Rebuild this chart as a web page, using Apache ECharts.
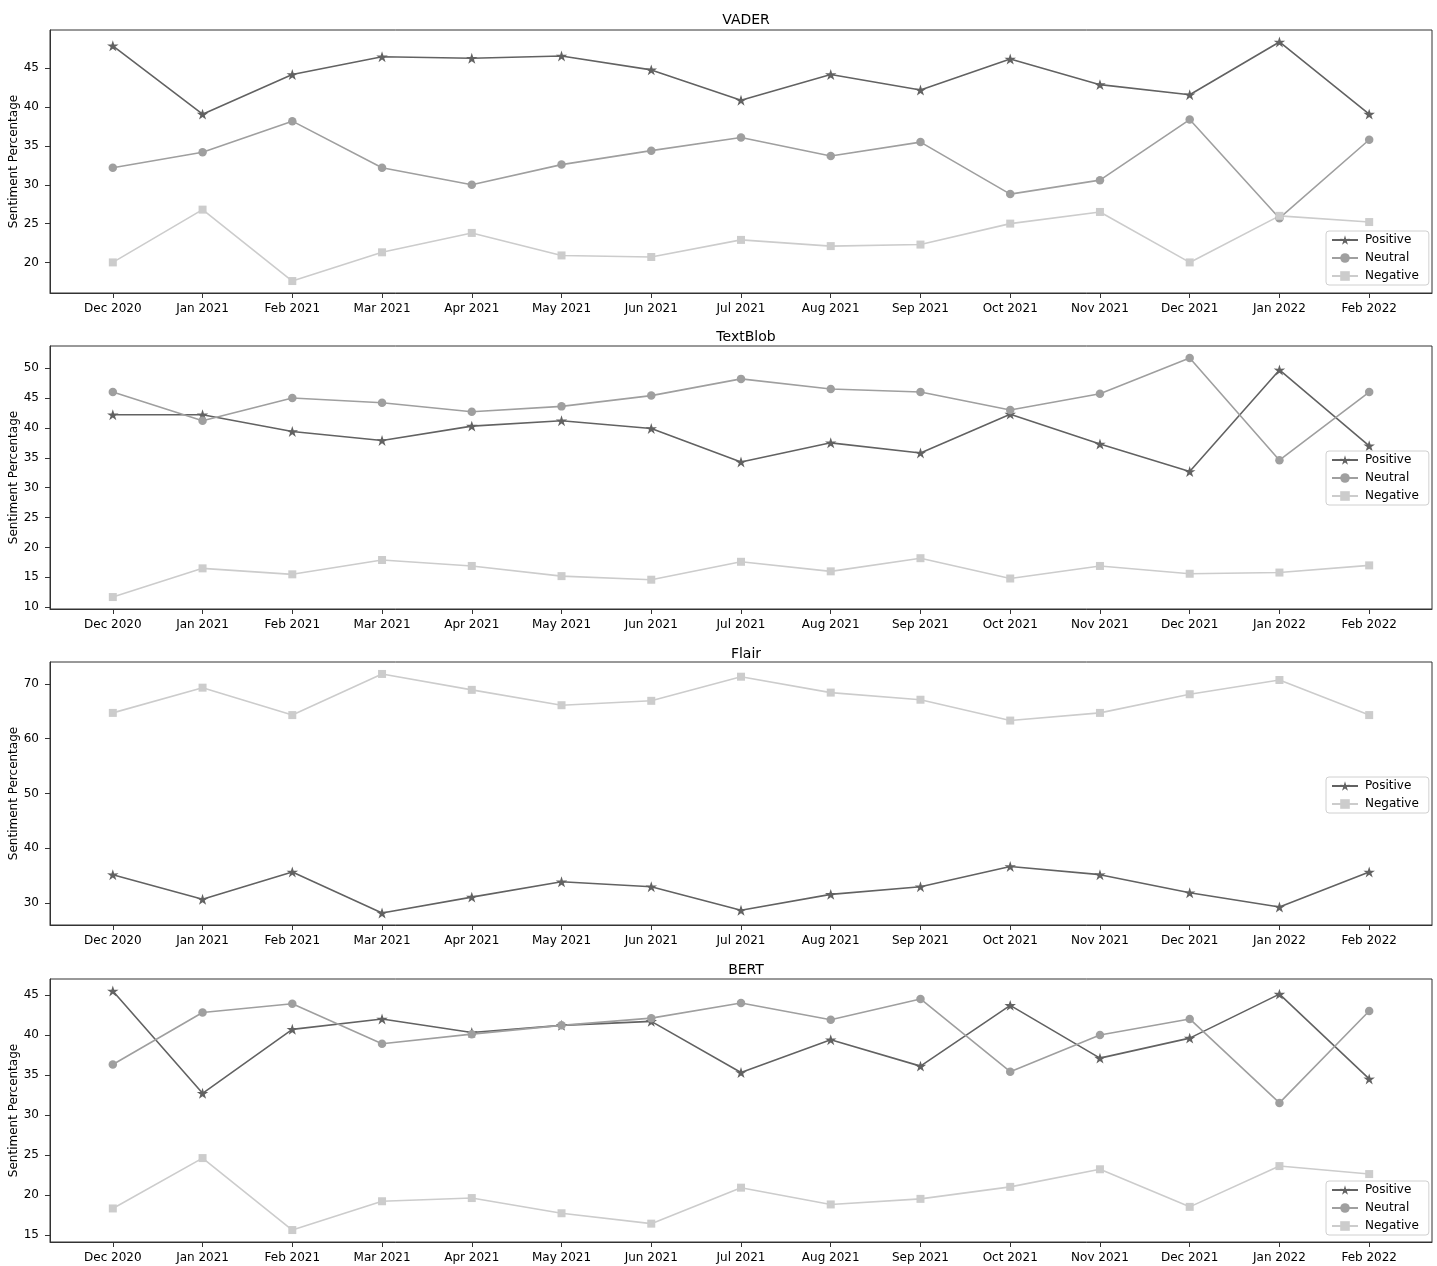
<!DOCTYPE html>
<html>
<head>
<meta charset="utf-8">
<script src="https://cdn.jsdelivr.net/npm/echarts@6/dist/echarts.min.js"></script>
<style>
html,body{margin:0;padding:0;background:#fff;}
#chart{width:1437px;height:1266px;}
</style>
</head>
<body>
<div id="chart"></div>
<script>
const months = ['Dec 2020','Jan 2021','Feb 2021','Mar 2021','Apr 2021','May 2021','Jun 2021','Jul 2021','Aug 2021','Sep 2021','Oct 2021','Nov 2021','Dec 2021','Jan 2022','Feb 2022'];

const vaderPositive = [47.9, 39.1, 44.2, 46.5, 46.3, 46.6, 44.8, 40.9, 44.2, 42.2, 46.2, 42.9, 41.6, 48.4, 39.1];
const vaderNeutral  = [32.2, 34.2, 38.2, 32.2, 30.0, 32.6, 34.4, 36.1, 33.7, 35.5, 28.8, 30.6, 38.4, 25.7, 35.8];
const vaderNegative = [20.0, 26.8, 17.6, 21.3, 23.8, 20.9, 20.7, 22.9, 22.1, 22.3, 25.0, 26.5, 20.0, 26.0, 25.2];

const textblobPositive = [42.2, 42.2, 39.4, 37.9, 40.3, 41.2, 39.9, 34.3, 37.5, 35.8, 42.3, 37.3, 32.7, 49.7, 37.0];
const textblobNeutral  = [46.0, 41.2, 45.0, 44.2, 42.7, 43.6, 45.4, 48.2, 46.5, 46.0, 43.0, 45.7, 51.7, 34.6, 46.0];
const textblobNegative = [11.7, 16.5, 15.5, 17.9, 16.9, 15.2, 14.6, 17.6, 16.0, 18.2, 14.8, 16.9, 15.6, 15.8, 17.0];

const flairPositive = [35.2, 30.7, 35.7, 28.2, 31.1, 33.9, 33.0, 28.7, 31.6, 33.0, 36.7, 35.2, 31.9, 29.3, 35.7];
const flairNegative = [64.7, 69.3, 64.3, 71.8, 68.9, 66.1, 66.9, 71.3, 68.4, 67.1, 63.3, 64.7, 68.1, 70.7, 64.3];

const bertPositive = [45.5, 32.7, 40.7, 42.0, 40.3, 41.2, 41.7, 35.3, 39.4, 36.1, 43.7, 37.1, 39.6, 45.1, 34.5];
const bertNeutral  = [36.3, 42.8, 43.9, 38.9, 40.1, 41.2, 42.1, 44.0, 41.9, 44.5, 35.4, 40.0, 42.0, 31.5, 43.0];
const bertNegative = [18.3, 24.6, 15.6, 19.2, 19.6, 17.7, 16.4, 20.9, 18.8, 19.5, 21.0, 23.2, 18.5, 23.6, 22.6];

const vaderTicks = [20, 25, 30, 35, 40, 45];
const textblobTicks = [10, 15, 20, 25, 30, 35, 40, 45, 50];
const flairTicks = [30, 40, 50, 60, 70];
const bertTicks = [15, 20, 25, 30, 35, 40, 45];

const panelTitles = ['VADER', 'TextBlob', 'Flair', 'BERT'];
const yAxisTitle = 'Sentiment Percentage';

// ---- layout / style ----
const FONT = 'DejaVu Sans';
const gridTops = [30, 346, 662, 979];
const gridHeight = 263;
const titleTops = [8, 325, 642, 958];
const legendTops = [231, 451, 777, 1181];
const colors = { Positive: '#626262', Neutral: '#9f9f9f', Negative: '#cccccc' };
const starPath = 'path://M50,0L61.17,34.63L97.55,34.55L68.07,55.87L79.39,90.45L50,69L20.61,90.45L31.93,55.87L2.45,34.55L38.83,34.63Z';
const symbols = { Positive: starPath, Neutral: 'circle', Negative: 'rect' };
const symbolSizes = { Positive: 11.5, Neutral: 8.5, Negative: 8 };

const panels = [
  { ticks: vaderTicks, series: { Positive: vaderPositive, Neutral: vaderNeutral, Negative: vaderNegative } },
  { ticks: textblobTicks, series: { Positive: textblobPositive, Neutral: textblobNeutral, Negative: textblobNegative } },
  { ticks: flairTicks, series: { Positive: flairPositive, Negative: flairNegative } },
  { ticks: bertTicks, series: { Positive: bertPositive, Neutral: bertNeutral, Negative: bertNegative } }
];

const option = {
  backgroundColor: '#ffffff',
  animation: false,
  textStyle: { fontFamily: FONT },
  title: [], grid: [], xAxis: [], yAxis: [], legend: [], series: []
};

const xIdx = months.map((m, i) => i);

panels.forEach((p, k) => {
  const all = [].concat(...Object.values(p.series));
  const lo = Math.min(...all), hi = Math.max(...all);
  const pad = (hi - lo) * 0.05;

  option.title.push({
    text: panelTitles[k], left: 741, top: titleTops[k], textAlign: 'center',
    textStyle: { fontFamily: FONT, fontSize: 14, fontWeight: 'normal', color: '#000' }
  });
  option.grid.push({
    left: 50, right: 5, top: gridTops[k], height: gridHeight,
    containLabel: false, outerBoundsMode: 'none',
    show: true, borderColor: '#333', borderWidth: 1, backgroundColor: 'transparent'
  });
  option.xAxis.push({
    type: 'value', gridIndex: k, min: -0.7, max: months.length - 1 + 0.7,
    axisLine: { show: true, onZero: false, lineStyle: { color: '#333', width: 1 } },
    axisTick: { show: true, customValues: xIdx, length: 5, lineStyle: { color: '#333', width: 1 } },
    axisLabel: { show: true, customValues: xIdx, margin: 10, fontSize: 12, color: '#000', fontFamily: FONT,
      formatter: v => months[Math.round(v)] },
    splitLine: { show: false }
  });
  option.yAxis.push({
    type: 'value', gridIndex: k, min: lo - pad, max: hi + pad,
    name: yAxisTitle, nameLocation: 'middle', nameRotate: 90, nameGap: 30, nameMoveOverlap: false,
    nameTextStyle: { fontSize: 12, color: '#000', fontFamily: FONT },
    axisLine: { show: true, onZero: false, lineStyle: { color: '#333', width: 1 } },
    axisTick: { show: true, customValues: p.ticks, length: 5, lineStyle: { color: '#333', width: 1 } },
    axisLabel: { show: true, customValues: p.ticks, margin: 11, fontSize: 12, color: '#000', fontFamily: FONT },
    splitLine: { show: false }
  });
  const names = Object.keys(p.series);
  option.legend.push({
    orient: 'vertical', left: 1326, top: legendTops[k],
    data: names, itemWidth: 26, itemHeight: 12, itemGap: 6,
    padding: [3, 10, 3, 5],
    borderColor: '#d0d0d0', borderWidth: 1, borderRadius: 3, backgroundColor: 'rgba(255,255,255,0.8)',
    textStyle: { fontSize: 12, color: '#000', fontFamily: FONT, padding: [0, 0, 0, 2] },
    selectedMode: false
  });
  names.forEach(n => {
    option.series.push({
      name: n, type: 'line', xAxisIndex: k, yAxisIndex: k,
      data: p.series[n].map((v, i) => [i, v]),
      symbol: symbols[n], symbolSize: symbolSizes[n], symbolKeepAspect: true, showAllSymbol: true,
      lineStyle: { color: colors[n], width: 1.6 },
      itemStyle: { color: colors[n], borderWidth: 0 },
      emphasis: { disabled: true }
    });
  });
});

const chart = echarts.init(document.getElementById('chart'), null, { renderer: 'canvas' });
chart.setOption(option);
</script>
</body>
</html>
